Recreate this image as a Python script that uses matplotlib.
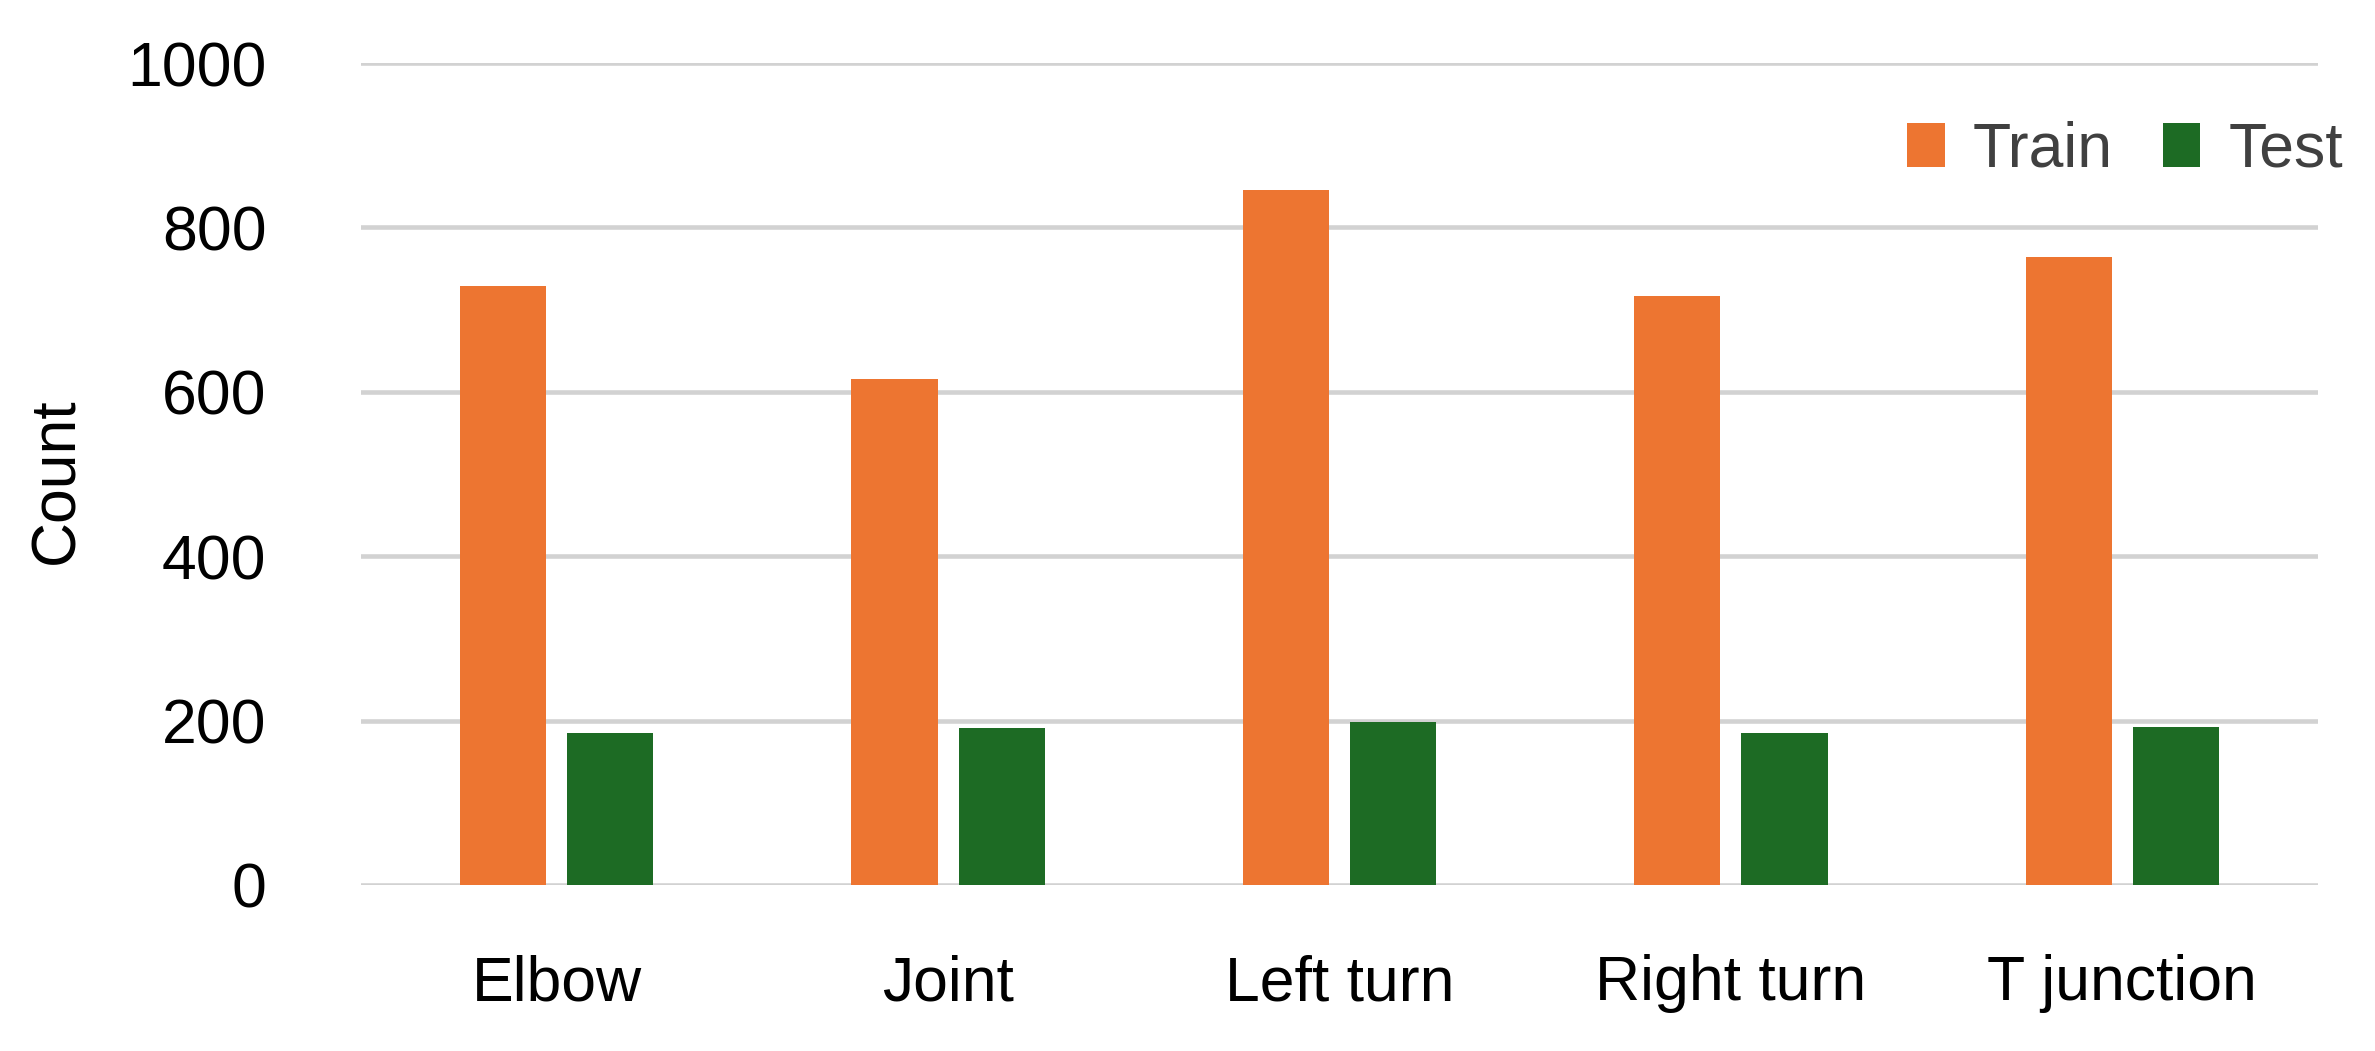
import matplotlib
matplotlib.use("Agg")
import matplotlib.pyplot as plt
import numpy as np

# data
categories = ["Elbow", "Joint", "Left turn", "Right turn", "T junction"]
train_counts = [729, 616, 846, 716, 764]
test_counts = [185, 191, 198, 185, 192]
y_ticks = [0, 200, 400, 600, 800, 1000]

orange = "#ED7531"
green = "#1D6B24"

plt.rcParams['font.family'] = ['Liberation Sans', 'DejaVu Sans']
fs = 45

fig = plt.figure(figsize=(23.75, 10.51), dpi=100)
ax = fig.add_axes([0.152, 0.158, 0.824, 0.782])

x = np.arange(len(categories))
w = 0.22
ax.bar(x - 0.137, train_counts, width=w, color=orange, label="Train", zorder=3)
ax.bar(x + 0.137, test_counts, width=w, color=green, label="Test", zorder=3)

ax.set_xlim(-0.5, len(categories) - 0.5)
ax.set_ylim(0, 1000)
ax.set_yticks(y_ticks)
ax.set_xticks(x)
ax.set_xticklabels(categories)

ax.grid(axis="y", color="#d2d2d2", linewidth=3.3, zorder=0)
ax.set_axisbelow(True)
for s in ax.spines.values():
    s.set_visible(False)
ax.tick_params(axis="both", length=0, labelsize=fs, colors="black")
ax.tick_params(axis="y", pad=68)
ax.tick_params(axis="x", pad=50)

fig.text(0.024, 0.543, "Count", rotation=90, ha="center", va="center", fontsize=fs)

leg = fig.legend(loc="center right", bbox_to_anchor=(0.997, 0.857), ncol=2, frameon=False,
                 fontsize=fs, handlelength=0.6, handleheight=0.7, handletextpad=0.45,
                 columnspacing=0.8, borderaxespad=0)
for t in leg.get_texts():
    t.set_color("#404040")

fig.savefig("out.png", dpi=100)
